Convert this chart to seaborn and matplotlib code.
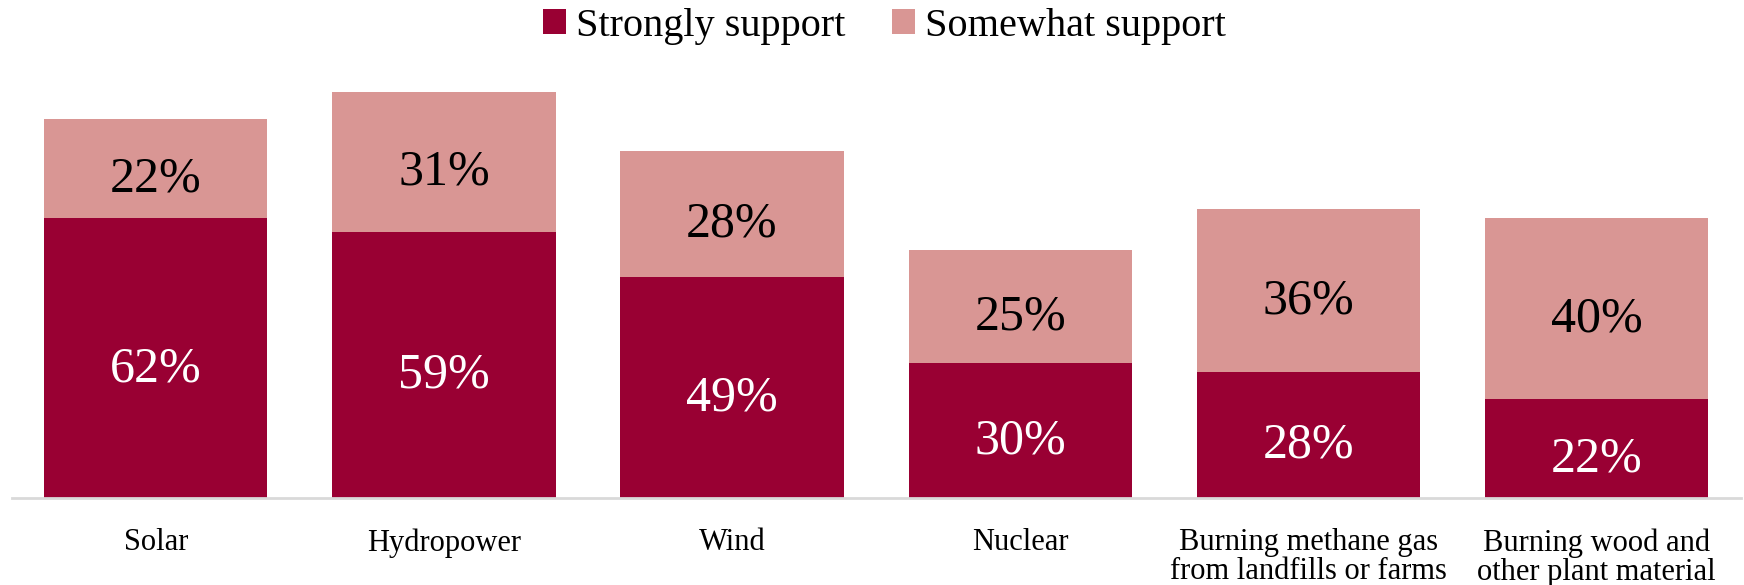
import matplotlib
matplotlib.use("Agg")
import matplotlib.pyplot as plt
from matplotlib.patches import Patch
import seaborn as sns
import pandas as pd

categories = ["Solar", "Hydropower", "Wind", "Nuclear",
              "Burning methane gas\nfrom landfills or farms",
              "Burning wood and\nother plant material"]
strongly = [62, 59, 49, 30, 28, 22]
somewhat = [22, 31, 28, 25, 36, 40]
series_names = ["Strongly support", "Somewhat support"]

dark = "#990033"
light = "#D99694"

sns.set_theme(style="white")
plt.rcParams["font.family"] = ["Liberation Serif", "DejaVu Serif"]

df = pd.DataFrame({"category": categories, "strongly": strongly, "somewhat": somewhat})
df["total"] = df["strongly"] + df["somewhat"]

fig = plt.figure(figsize=(17.44, 5.85), dpi=100)
ax = fig.add_axes([0.0067, 0.149, 0.9913, 0.75])

# Stacked bars: full total in the light colour, strong support drawn over it
sns.barplot(data=df, x="category", y="total", color=light, saturation=1,
            width=0.775, ax=ax, linewidth=0)
sns.barplot(data=df, x="category", y="strongly", color=dark, saturation=1,
            width=0.775, ax=ax, linewidth=0)

ax.set_xlim(-0.5, len(categories) - 0.5)
ax.set_ylim(0, 97.3)

for i, (s, w) in enumerate(zip(strongly, somewhat)):
    ax.text(i, s / 2 - 2.4, f"{s}%", ha="center", va="center",
            color="white", fontsize=36)
    ax.text(i, s + w / 2 - 2.4, f"{w}%", ha="center", va="center",
            color="black", fontsize=36)

ax.set_xlabel("")
ax.set_ylabel("")
ax.set_yticks([])
ax.tick_params(axis="x", length=0, pad=22, labelsize=22, colors="black")
for lbl in ax.get_xticklabels():
    lbl.set_verticalalignment("top")
    lbl.set_linespacing(1.0)

for side in ["top", "left", "right"]:
    ax.spines[side].set_visible(False)
ax.spines["bottom"].set_color("#d9d9d9")
ax.spines["bottom"].set_linewidth(2)

handles = [Patch(facecolor=dark, edgecolor="none"),
           Patch(facecolor=light, edgecolor="none")]
fig.legend(handles, series_names, loc="center", bbox_to_anchor=(0.507, 0.955),
           ncol=2, frameon=False, fontsize=29, handlelength=0.57,
           handleheight=0.57, handletextpad=0.25, columnspacing=1.15,
           labelcolor="black")

fig.savefig("out.png", dpi=100)
